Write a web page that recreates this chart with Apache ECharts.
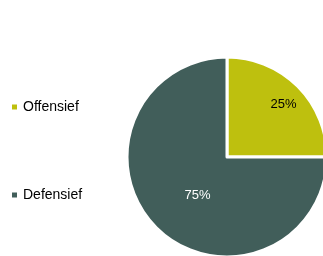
<!DOCTYPE html>
<html>
<head>
<meta charset="utf-8">
<script src="https://cdn.jsdelivr.net/npm/echarts@6/dist/echarts.min.js"></script>
<style>
html,body{margin:0;padding:0;background:#fff;}
#chart{width:323px;height:256px;}
</style>
</head>
<body>
<div id="chart"></div>
<script>
var categories = ['Offensief', 'Defensief'];
var values = [25, 75];
var colors = ['#BEC00E', '#415E5A'];
var labelColors = ['#000000', '#ffffff'];

var dom = document.getElementById('chart');
var myChart = echarts.init(dom);

var pieData = [];
for (var i = 0; i < categories.length; i++) {
    pieData.push({
        name: categories[i],
        value: values[i],
        itemStyle: {color: colors[i]},
        label: {color: labelColors[i]}
    });
}
// labels een beetje verschuiven zoals in Excel
pieData[0].label.offset = [19, -15];
pieData[1].label.offset = [8, 1];

var option = {
    animation: false,
    legend: {
        orient: 'vertical',
        left: 10,
        top: 100,
        padding: 0,
        icon: 'rect',
        itemWidth: 7,
        itemHeight: 7,
        itemGap: 74,
        textStyle: {fontFamily: 'Liberation Sans, Arial', fontSize: 14, color: '#000'},
        data: categories
    },
    series: [{
        type: 'pie',
        center: [227, 157],
        radius: 100,
        startAngle: 90,
        clockwise: true,
        itemStyle: {borderColor: '#fff', borderWidth: 3},
        label: {
            position: 'inside',
            formatter: '{d}%',
            fontFamily: 'Liberation Sans, Arial',
            fontSize: 13
        },
        labelLine: {show: false},
        emphasis: {disabled: true},
        data: pieData
    }]
};
myChart.setOption(option, true);
</script>
</body>
</html>
